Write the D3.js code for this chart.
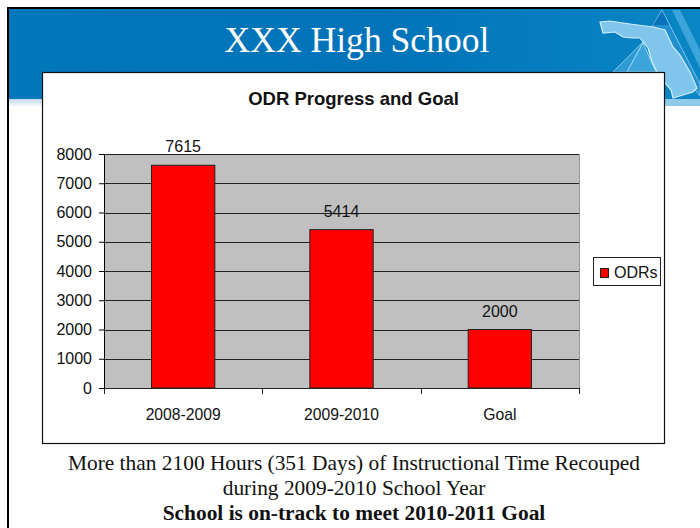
<!DOCTYPE html>
<html>
<head>
<meta charset="utf-8">
<script src="https://cdnjs.cloudflare.com/ajax/libs/d3/7.8.5/d3.min.js"></script>
<style>
  html, body { margin: 0; padding: 0; background: #fff; }
  svg { display: block; }
  .sans { font-family: 'Liberation Sans', Arial, sans-serif; fill: #111; }
  .serif { font-family: 'Liberation Serif', 'Times New Roman', serif; fill: #111; }
</style>
</head>
<body>
<svg id="slide" width="700" height="528"></svg>
<script>
const categories = ['2008-2009', '2009-2010', 'Goal'];
const odrValues = [7615, 5414, 2000];
const yTicks = [0, 1000, 2000, 3000, 4000, 5000, 6000, 7000, 8000];
const seriesName = 'ODRs';
const slideTitle = 'XXX High School';
const chartTitle = 'ODR Progress and Goal';
const captionLines = [
  'More than 2100 Hours (351 Days) of Instructional Time Recouped',
  'during 2009-2010 School Year',
  'School is on-track to meet 2010-2011 Goal'
];

const svg = d3.select('#slide');

const defs = svg.append('defs');
const grad = defs.append('linearGradient').attr('id', 'band').attr('x1', 0).attr('x2', 1).attr('y1', 0).attr('y2', 0);
grad.append('stop').attr('offset', 0).attr('stop-color', '#0377bb');
grad.append('stop').attr('offset', 0.55).attr('stop-color', '#0273b9');
grad.append('stop').attr('offset', 1).attr('stop-color', '#0a86c4');
const fade = defs.append('linearGradient').attr('id', 'fade').attr('x1', 0).attr('x2', 0).attr('y1', 0).attr('y2', 1);
fade.append('stop').attr('offset', 0).attr('stop-color', '#c3d9ea');
fade.append('stop').attr('offset', 1).attr('stop-color', '#f4f8fb');

// slide header band
svg.append('rect').attr('x', 8).attr('y', 8).attr('width', 692).attr('height', 91).attr('fill', 'url(#band)');
svg.append('rect').attr('x', 8).attr('y', 99).attr('width', 692).attr('height', 7).attr('fill', 'url(#fade)');

// florida logo, right of the header
const logo = svg.append('g');
logo.append('path').attr('d', 'M613 72 L643 42 L627 72 Z').attr('fill', '#2f9bd3').attr('stroke', '#7cc4ea');
logo.append('path').attr('d', 'M627 72 L643 43 L656 72 Z').attr('fill', '#3ba4da').attr('stroke', '#9ad3f0');
logo.append('path').attr('d', 'M650 30 L662 10 L700 84 L700 96 Z').attr('fill', '#1f90cd').attr('stroke', '#7cc4ea');
logo.append('path').attr('d', 'M672 10 L680 10 L700 50 L700 68 Z').attr('fill', '#3ba4da');
logo.append('path').attr('d', 'M653 25 L662 11 L669 25 Z').attr('fill', '#0a72b8');
logo.append('path')
  .attr('d', 'M600 22 L610 21 L630 24 L653 27 L665 30 L673 47 L680 55 L690 72 L697 88 L693 92 L683 95 L673 98 L671 90 L665 83 L657 72 L652 62 L648 48 L640 38 L632 38 L623 37 L615 32 L603 33 Z')
  .attr('fill', '#80c6ec').attr('stroke', '#d3edfa').attr('stroke-width', 1.2);
logo.append('rect').attr('x', 665).attr('y', 99).attr('width', 35).attr('height', 7).attr('fill', '#8fcbe9');

// slide frame
svg.append('path').attr('d', 'M8 528 L8 8 L700 8').attr('fill', 'none').attr('stroke', '#000').attr('stroke-width', 2);

svg.append('text').attr('class', 'serif').attr('x', 357).attr('y', 52)
  .attr('text-anchor', 'middle').attr('font-size', 35.6).style('fill', '#fff').text(slideTitle);

// chart box
svg.append('rect').attr('x', 42.5).attr('y', 72.5).attr('width', 622).attr('height', 371)
  .attr('fill', '#fff').attr('stroke', '#111').attr('stroke-width', 1.2);

svg.append('text').attr('class', 'sans').attr('x', 353.5).attr('y', 105)
  .attr('text-anchor', 'middle').attr('font-size', 18.5).attr('font-weight', 'bold').text(chartTitle);

const x = d3.scaleBand().domain(categories).range([104, 579]).paddingInner(0.6).paddingOuter(0.3);
const y = d3.scaleLinear().domain([0, 8000]).range([388, 154]);

svg.append('rect').attr('x', x.range()[0]).attr('y', y(8000)).attr('width', 475).attr('height', y(0) - y(8000))
  .attr('fill', '#c0c0c0');

svg.append('g').selectAll('line').data(yTicks).enter().append('line')
  .attr('x1', 104).attr('x2', 579)
  .attr('y1', d => Math.round(y(d)) + 0.5).attr('y2', d => Math.round(y(d)) + 0.5)
  .attr('stroke', '#222').attr('stroke-width', 1);

svg.append('line').attr('x1', 579.5).attr('x2', 579.5).attr('y1', 154).attr('y2', 388).attr('stroke', '#999');

svg.append('g').selectAll('rect').data(odrValues).enter().append('rect')
  .attr('x', (d, i) => x(categories[i])).attr('y', d => y(d))
  .attr('width', x.bandwidth()).attr('height', d => y(0) - y(d))
  .attr('fill', '#ff0000').attr('stroke', '#222').attr('stroke-width', 1);

const yAxis = d3.axisLeft(y).tickValues(yTicks).tickSize(5).tickPadding(7).tickFormat(d3.format('d'));
const yG = svg.append('g').attr('transform', 'translate(104,0)').call(yAxis);
yG.attr('font-size', null).attr('font-family', null);
yG.selectAll('text').attr('class', 'sans').attr('font-size', 16);

const xEdges = d3.scaleLinear().domain([0, 3]).range([104, 579]);
svg.append('g').selectAll('line').data(d3.range(4)).enter().append('line')
  .attr('x1', d => Math.round(xEdges(d)) + 0.5).attr('x2', d => Math.round(xEdges(d)) + 0.5)
  .attr('y1', 388).attr('y2', 394).attr('stroke', '#222');

svg.append('g').selectAll('text').data(categories).enter().append('text')
  .attr('class', 'sans').attr('x', d => x(d) + x.bandwidth() / 2).attr('y', 420)
  .attr('text-anchor', 'middle').attr('font-size', 15.7).text(d => d);

svg.append('g').selectAll('text').data(odrValues).enter().append('text')
  .attr('class', 'sans').attr('x', (d, i) => x(categories[i]) + x.bandwidth() / 2).attr('y', d => y(d) - 13)
  .attr('text-anchor', 'middle').attr('font-size', 16).text(d => d);

// legend
svg.append('rect').attr('x', 593.5).attr('y', 257.5).attr('width', 67).attr('height', 28)
  .attr('fill', '#fff').attr('stroke', '#222');
svg.append('rect').attr('x', 600.5).attr('y', 268.5).attr('width', 8).attr('height', 9)
  .attr('fill', '#ff0000').attr('stroke', '#222');
svg.append('text').attr('class', 'sans').attr('x', 614).attr('y', 278).attr('font-size', 16).text(seriesName);

// caption
svg.append('g').selectAll('text').data(captionLines).enter().append('text')
  .attr('class', 'serif').attr('x', 354).attr('y', (d, i) => 470 + i * 25)
  .attr('text-anchor', 'middle').attr('font-size', 21.4)
  .attr('font-weight', (d, i) => i === 2 ? 'bold' : 'normal').text(d => d);
</script>
</body>
</html>
